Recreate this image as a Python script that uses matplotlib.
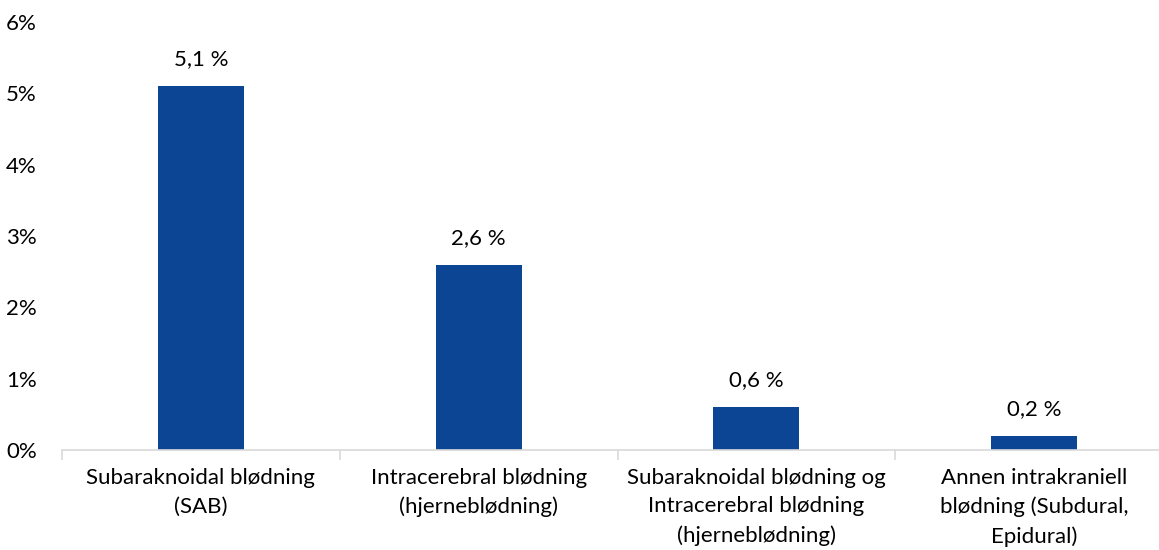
import matplotlib.pyplot as plt
import numpy as np

categories = [
    "Subaraknoidal blødning\n(SAB)",
    "Intracerebral blødning\n(hjerneblødning)",
    "Subaraknoidal blødning og\nIntracerebral blødning\n(hjerneblødning)",
    "Annen intrakraniell\nblødning (Subdural,\nEpidural)",
]
values = [5.1, 2.6, 0.6, 0.2]
value_labels = ["5,1 %", "2,6 %", "0,6 %", "0,2 %"]
yticks = [0, 1, 2, 3, 4, 5, 6]

plt.rcParams['font.family'] = ['Lato', 'DejaVu Sans']
FS = 16

fig = plt.figure(figsize=(11.59, 5.5), dpi=100)
ax = fig.add_axes([62 / 1159, 1 - 450 / 550, 1111 / 1159, (450 - 22) / 550])

x = np.arange(len(categories))
ax.bar(x, values, width=0.31, color="#0b4593", zorder=2)

for xi, v, lab in zip(x, values, value_labels):
    ax.annotate(lab, (xi, v), xytext=(0, 12), textcoords="offset points",
                ha="center", va="bottom", fontsize=FS, color="#000000")

ax.set_xlim(-0.5, len(categories) - 0.5)
ax.set_ylim(0, 6)
ax.set_yticks(yticks)
ax.set_yticklabels([f"{t}%" for t in yticks], fontsize=FS)

ax.set_xticks(x)
ax.set_xticklabels(categories, fontsize=FS, linespacing=1.52)
ax.set_xticks(np.arange(-0.5, len(categories), 1), minor=True)
ax.tick_params(axis="x", which="major", length=0, pad=13)
ax.tick_params(axis="x", which="minor", length=7, color="#d9d9d9", width=1.2)
ax.tick_params(axis="y", length=0, pad=18)

for side in ["top", "right", "left"]:
    ax.spines[side].set_visible(False)
ax.spines["bottom"].set_color("#d9d9d9")
ax.spines["bottom"].set_linewidth(1.2)

fig.savefig("out.png", dpi=100)
